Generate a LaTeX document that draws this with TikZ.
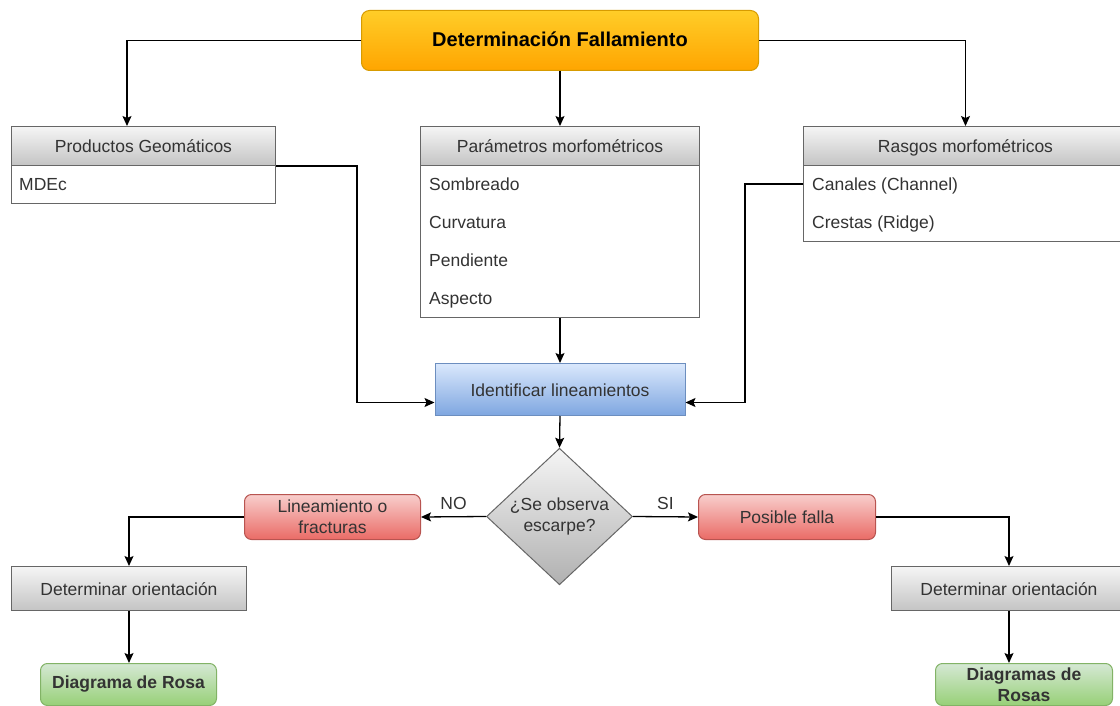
\documentclass[tikz,border=0pt]{standalone}
\usepackage{fontspec}
\setmainfont{Liberation Sans}
\usetikzlibrary{arrows.meta,shapes.geometric}

\definecolor{txt}{HTML}{333333}
\definecolor{orTop}{HTML}{FFCD28}
\definecolor{orBot}{HTML}{FFA500}
\definecolor{orLine}{HTML}{D79B00}
\definecolor{gyTop}{HTML}{F5F5F5}
\definecolor{gyBot}{HTML}{C4C4C4}
\definecolor{gyLine}{HTML}{666666}
\definecolor{blTop}{HTML}{DAE8FC}
\definecolor{blBot}{HTML}{7EA6E0}
\definecolor{blLine}{HTML}{6C8EBF}
\definecolor{rdTop}{HTML}{F8CECC}
\definecolor{rdBot}{HTML}{EA6B66}
\definecolor{rdLine}{HTML}{B85450}
\definecolor{gnTop}{HTML}{D5E8D4}
\definecolor{gnBot}{HTML}{97D077}
\definecolor{gnLine}{HTML}{82B366}

\tikzset{
  base/.style={font=\fontsize{17.5}{21}\selectfont, text=txt, inner sep=0pt,
    anchor=north west, line width=1pt},
  oneline/.style={text height=14.5pt, text depth=1.5pt},
  grayhead/.style={base, oneline, draw=gyLine, top color=gyTop, bottom color=gyBot},
  listbody/.style={base, draw=gyLine, fill=white},
  item/.style={font=\fontsize{17.5}{21}\selectfont, text=txt, inner sep=0pt, anchor=west,
    oneline},
  titlebox/.style={base, oneline, draw=orLine, top color=orTop, bottom color=orBot,
    rounded corners=8pt, text=black, font=\fontsize{20}{24}\selectfont\bfseries},
  bluebox/.style={base, oneline, draw=blLine, top color=blTop, bottom color=blBot},
  redbox/.style={base, draw=rdLine, top color=rdTop, bottom color=rdBot,
    rounded corners=7pt, align=center},
  greenbox/.style={base, draw=gnLine, top color=gnTop, bottom color=gnBot,
    rounded corners=7pt, align=center, font=\fontsize{17.5}{21}\selectfont\bfseries},
  decision/.style={diamond, draw=gyLine, line width=1pt, top color=gyTop, bottom color=gyBot!90!black,
    inner sep=0pt, minimum width=146pt, minimum height=133pt, align=center, text=txt,
    font=\fontsize{17.5}{21}\selectfont},
  conn/.style={draw=black, line width=1.3pt, -{Stealth[length=10pt,width=9pt,inset=2pt]}},
  edgelbl/.style={font=\fontsize{17.5}{21}\selectfont, text=txt, inner sep=0pt}
}

\begin{document}
\begin{tikzpicture}[x=1pt, y=-1pt]
  \useasboundingbox (0,0) rectangle (1120,706);
  \fill[white] (0,0) rectangle (1120,706);

  % title
  \node[titlebox, minimum width=397pt, minimum height=60pt] (title) at (361,10) {Determinación Fallamiento};

  % Productos Geomáticos
  \node[grayhead, minimum width=264pt, minimum height=39pt] (pgh) at (11,126) {Productos Geomáticos};
  \node[listbody, minimum width=264pt, minimum height=38pt] (pgb) at (11,165) {};
  \node[item] (pg1) at (19,184) {MDEc};

  % Parámetros morfométricos
  \node[grayhead, minimum width=279pt, minimum height=39pt] (pmh) at (420,126) {Parámetros morfométricos};
  \node[listbody, minimum width=279pt, minimum height=152pt] (pmb) at (420,165) {};
  \node[item] (pm1) at (429,184) {Sombreado};
  \node[item] (pm2) at (429,222) {Curvatura};
  \node[item] (pm3) at (429,260) {Pendiente};
  \node[item] (pm4) at (429,298) {Aspecto};

  % Rasgos morfométricos
  \node[grayhead, minimum width=324pt, minimum height=39pt] (rmh) at (803,126) {Rasgos morfométricos};
  \node[listbody, minimum width=324pt, minimum height=76pt] (rmb) at (803,165) {};
  \node[item] (rm1) at (812,184) {Canales (Channel)};
  \node[item] (rm2) at (812,222) {Crestas (Ridge)};

  % central flow
  \node[bluebox, minimum width=250pt, minimum height=52pt] (ident) at (434.5,363) {Identificar lineamientos};
  \node[decision] (dec) at (559.5,516.5) {¿Se observa\\escarpe?};

  \node[redbox, minimum width=176pt, minimum height=45pt] (lin) at (244,494) {Lineamiento o\\fracturas};
  \node[redbox, minimum width=177pt, minimum height=45pt] (fal) at (698,494) {Posible falla};

  \node[grayhead, minimum width=235pt, minimum height=44pt] (detl) at (11,566) {Determinar orientación};
  \node[grayhead, minimum width=235pt, minimum height=44pt] (detr) at (891,566) {Determinar orientación};

  \node[greenbox, minimum width=176pt, minimum height=42pt] (rosl) at (40,663) {Diagrama de Rosa};
  \node[greenbox, minimum width=177pt, minimum height=42pt] (rosr) at (935,663) {Diagramas de\\Rosas};

  % connectors
  \draw[conn] (title.west) -| ([xshift=116pt]pgh.north west);
  \draw[conn] (title.south) -- (pmh.north);
  \draw[conn] (title.east) -| (rmh.north);
  \draw[conn] (pmb.south) -- (ident.north);
  \draw[conn] (pgh.south east) -- ++(81,0) |- ([yshift=-13pt]ident.west);
  \draw[conn] (rm1.west -| rmb.west) -- ++(-58,0) |- ([yshift=-13pt]ident.east);
  \draw[conn] (ident.south) -- (dec.north);
  \draw[conn] (dec.west) -- node[edgelbl, above=6pt] {NO} (lin.east);
  \draw[conn] (dec.east) -- node[edgelbl, above=6pt] {SI} (fal.west);
  \draw[conn] (lin.west) -| (detl.north);
  \draw[conn] (fal.east) -| (detr.north);
  \draw[conn] (detl.south) -- (detl.south |- rosl.north);
  \draw[conn] (detr.south) -- (detr.south |- rosr.north);
\end{tikzpicture}
\end{document}
